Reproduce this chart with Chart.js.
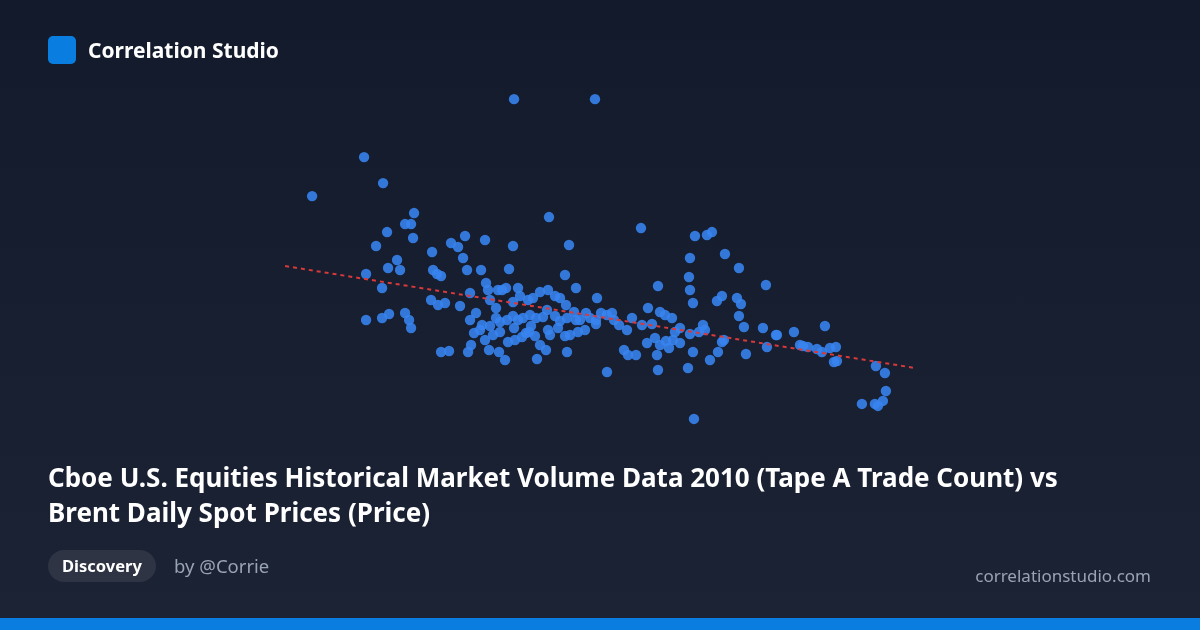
<!DOCTYPE html>
<html>
<head>
<meta charset="utf-8">
<script src="https://cdn.jsdelivr.net/npm/chart.js@4/dist/chart.umd.min.js"></script>
<style>
  html, body { margin: 0; padding: 0; }
  body {
    width: 1200px; height: 630px; overflow: hidden; position: relative;
    background: linear-gradient(180deg, #121a2b 0%, #1b2335 100%);
    font-family: "Noto Sans", "Open Sans", sans-serif; color: #fff;
  }
  #chartWrap { position: absolute; left: 0; top: 0; width: 1200px; height: 630px; }
  .logo { position: absolute; left: 48px; top: 36px; width: 28px; height: 28px; border-radius: 5px; background: #0a7ee0; }
  .brand { position: absolute; left: 88px; top: 36px; font-size: 21px; font-weight: 700; line-height: 28px; }
  .title { position: absolute; left: 48px; top: 460px; width: 1070px; font-size: 26px; font-weight: 700; line-height: 35px; }
  .badge { position: absolute; left: 48px; top: 550px; height: 32px; padding: 0 14px; border-radius: 16px;
           background: #2e3444; font-size: 16.5px; font-weight: 700; line-height: 32px; }
  .by { position: absolute; left: 174px; top: 550px; font-size: 18.5px; line-height: 32px; color: #9aa3b3; }
  .site { position: absolute; right: 49px; top: 560px; font-size: 17px; line-height: 32px; color: #9aa3b3; }
  .bar { position: absolute; left: 0; bottom: 0; width: 1200px; height: 12px; background: #0a7ee0; }
</style>
</head>
<body>
<div id="chartWrap"><canvas id="scatter"></canvas></div>
<div class="logo"></div>
<div class="brand">Correlation Studio</div>
<div class="title">Cboe U.S. Equities Historical Market Volume Data 2010 (Tape A Trade Count) vs Brent Daily Spot Prices (Price)</div>
<div class="badge">Discovery</div>
<div class="by">by @Corrie</div>
<div class="site">correlationstudio.com</div>
<div class="bar"></div>
<script>
'use strict';

/* trade count (index units) */
var tradeCount = [
  312,364,383,514,595,414,405,411,387,376,413,366,397,400,388,382,366,382,389,405,411,409,
  432,433,437,441,451,458,465,463,467,485,481,513,509,549,569,565,441,449,470,431,438,445,
  460,476,480,486,488,498,502,506,518,490,496,513,520,528,533,540,548,555,560,576,566,576,
  586,597,601,612,470,474,482,490,496,500,507,513,518,523,530,536,543,547,555,560,567,574,
  580,590,596,485,489,471,468,499,505,508,515,522,529,535,540,537,546,550,558,565,570,578,
  585,596,607,567,548,531,526,514,500,493,
  641,695,707,712,690,725,739,689,690,693,658,722,717,737,741,739,766,744,763,776,794,825,
  767,746,718,710,699,705,724,722,703,690,680,672,665,660,648,642,632,627,619,614,628,636,
  647,655,660,666,669,675,680,657,658,688,607,624,693,694,652,673,777,800,803,808,817,822,
  830,836,834,837,876,885,886,883,878,875,862
];
/* brent price (index units) */
var brentPrice = [
  304,343,317,401,401,287,276,276,268,254,262,226,240,230,232,212,180,182,186,187,172,180,
  248,230,226,224,257,253,264,242,230,260,230,254,231,283,255,225,148,149,207,200,195,197,
  194,187,170,217,210,210,210,212,212,200,192,198,204,200,202,208,210,204,202,212,195,180,
  187,202,187,187,180,167,175,174,182,178,180,184,180,182,185,182,183,190,184,179,182,188,
  180,182,176,160,150,155,148,148,140,158,160,163,168,164,155,141,150,165,172,164,165,168,
  170,180,185,148,170,174,167,172,168,165,
  272,264,265,268,242,246,232,223,210,197,214,204,199,202,196,184,215,173,172,165,168,174,
  153,146,148,140,168,170,160,158,175,166,172,182,185,188,192,175,182,170,175,180,145,145,
  157,162,155,159,152,168,157,145,130,132,128,150,148,81,176,160,165,155,154,153,151,148,
  152,153,138,139,134,127,109,99,94,96,96,99
];
/* fitted trend line endpoints */
var trendX = [285, 915];
var trendY = [234, 132];

var points = tradeCount.map(function(x, i) { return { x: x, y: brentPrice[i] }; });
var trend  = trendX.map(function(x, i) { return { x: x, y: trendY[i] }; });

new Chart(document.getElementById('scatter').getContext('2d'), {
  type: 'scatter',
  data: {
    datasets: [
      {
        type: 'line', data: trend, borderColor: '#d8393b', borderWidth: 2,
        borderDash: [4, 4], pointRadius: 0, fill: false, order: 1
      },
      {
        data: points, backgroundColor: 'rgba(56,132,240,0.88)', borderWidth: 0,
        pointRadius: 5.2, pointHoverRadius: 5, order: 2
      }
    ]
  },
  options: {
    responsive: true, maintainAspectRatio: false, animation: false,
    layout: { padding: 0 },
    plugins: { legend: { display: false }, tooltip: { enabled: false } },
    scales: {
      x: { type: 'linear', min: 5, max: 1195, display: false },
      y: { type: 'linear', min: -125, max: 495, display: false }
    }
  }
});
</script>
</body>
</html>
